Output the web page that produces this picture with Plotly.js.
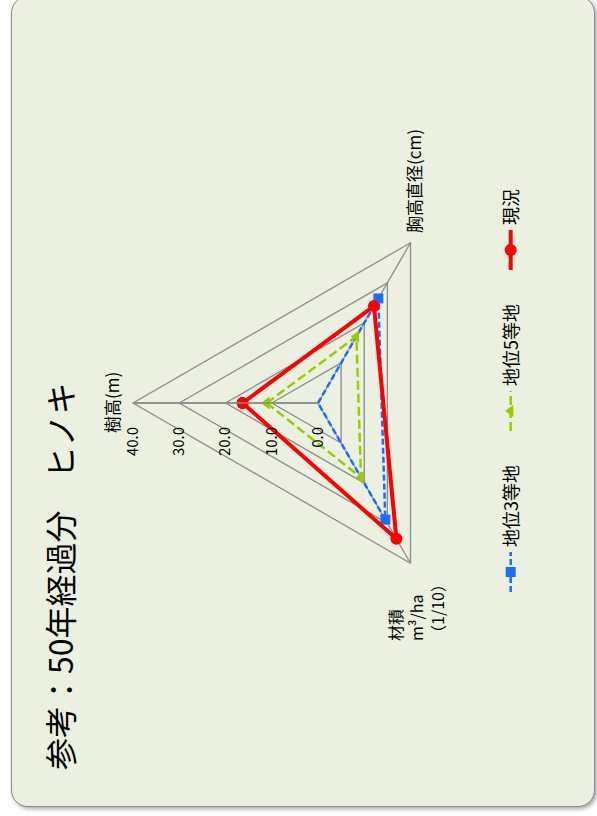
<!DOCTYPE html>
<html>
<head>
<meta charset="utf-8">
<script src="https://cdn.plot.ly/plotly-3.0.1.min.js"></script>
<style>
  html, body { margin:0; padding:0; width:597px; height:816px; overflow:hidden; background:#ffffff; }
  #bg { position:absolute; left:11px; top:-4px; width:582px; height:809px; background:#EBF0E0;
        border:1.5px solid #8a8a8a; border-radius:17px; box-shadow:2px 2px 4px rgba(0,0,0,0.35); }
  #chart { position:absolute; left:0; top:0; width:816px; height:597px;
           transform-origin:0 0; transform:translate(0px,816px) rotate(-90deg); }
</style>
</head>
<body>
<div id="bg"></div>
<div id="chart"></div>
<script>
const categories = ['樹高(m)', '胸高直径(cm)', '材積<br>m³/ha<br>（1/10）'];
const seriesNames = ['地位3等地', '地位5等地', '現況'];
const chi3 = [0.0, 26.1, 29.1];
const chi5 = [11.1, 16.6, 18.6];
const genkyo = [16.3, 24.2, 33.9];
const radialTicks = [0, 10, 20, 30, 40];

function closed(a) { return a.concat([a[0]]); }

const W = 816, H = 597;
const font = 'Noto Sans CJK JP, Noto Sans, sans-serif';
const styles = [
  {color:'#1A6EFF', width:2.5, dash:'6px,3px', symbol:'square', size:10},
  {color:'#99CC00', width:2.5, dash:'9px,4px', symbol:'triangle-up', size:11},
  {color:'#FF0000', width:4, dash:'solid', symbol:'circle', size:12}
];
const values = [chi3, chi5, genkyo];
const traces = values.map((v, i) => ({
  type:'scatterpolar',
  r: closed(v),
  theta: closed(categories),
  name: seriesNames[i],
  mode:'lines+markers',
  line:{color:styles[i].color, width:styles[i].width, dash:styles[i].dash},
  marker:{color:styles[i].color, symbol:styles[i].symbol, size:styles[i].size},
  hoverinfo:'skip'
}));

// category label placement (text boxes, unrotated frame px)
const catLabelPos = [
  {u:413, v:112, xanchor:'center', align:'center', size:17},
  {u:581, v:413, xanchor:'left', align:'left', size:17},
  {u:173, v:416, xanchor:'left', align:'left', size:16}
];
const catAnn = categories.map((c, i) => ({
  text:c, xref:'paper', yref:'paper', x:catLabelPos[i].u / W, y:1 - catLabelPos[i].v / H,
  xanchor:catLabelPos[i].xanchor, yanchor:'middle', align:catLabelPos[i].align, showarrow:false,
  font:{family:font, size:catLabelPos[i].size, color:'#000'}
}));

const layout = {
  width:W, height:H,
  margin:{l:0, r:0, t:0, b:0, autoexpand:false},
  paper_bgcolor:'rgba(0,0,0,0)',
  plot_bgcolor:'rgba(0,0,0,0)',
  font:{family:font, color:'#000000', size:15},
  showlegend:true,
  legend:{orientation:'h', x:219/W, y:1-511/H, xanchor:'left', yanchor:'middle',
          font:{family:font, size:18, color:'#000'}, itemwidth:40,
          entrywidth:106, entrywidthmode:'pixels',
          bgcolor:'rgba(0,0,0,0)'},
  annotations:[{text:'参考：50年経過分　ヒノキ', xref:'paper', yref:'paper', x:44/W, y:1-59/H,
                xanchor:'left', yanchor:'middle', showarrow:false,
                font:{family:font, size:32, color:'#000'}}].concat(catAnn),
  polar:{
    domain:{x:[228/W, 598/W], y:[1-503/H, 1-133/H]},
    bgcolor:'rgba(0,0,0,0)',
    gridshape:'linear',
    angularaxis:{direction:'clockwise', rotation:90, categoryorder:'array', categoryarray:categories,
                 linecolor:'#8c8c8c', linewidth:1.3, gridcolor:'#8c8c8c', gridwidth:1.3,
                 ticks:'', showticklabels:false},
    radialaxis:{range:[0,40], tickvals:radialTicks, tickformat:'.1f', angle:90, side:'counterclockwise',
                tickangle:90, ticks:'outside', ticklen:18, tickcolor:'rgba(0,0,0,0)',
                showline:true, linecolor:'#8c8c8c', linewidth:1.3, gridcolor:'#8c8c8c', gridwidth:1.3,
                tickfont:{family:font, size:15, color:'#000'}}
  }
};

Plotly.newPlot('chart', traces, layout, {displayModeBar:false, staticPlot:true});
</script>
</body>
</html>
